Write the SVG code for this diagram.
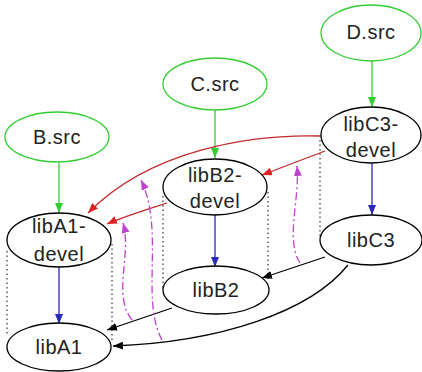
<svg xmlns="http://www.w3.org/2000/svg" width="422" height="372" viewBox="0 0 422 372">
<style>
.n{fill:#fff;stroke:#000;stroke-width:1.3}
.s{fill:#fff;stroke:#33cc33;stroke-width:1.3}
text{font-family:"Liberation Sans",Arial,sans-serif;font-size:20px;letter-spacing:0.5px;fill:#222;text-anchor:middle}
.e{fill:none;stroke-width:1.3}
.g{stroke:#33cc33}
.b{stroke:#2a2ab8}
.r{stroke:#c02a2a}
.k{stroke:#000}
.m{stroke:#c040d0;stroke-dasharray:8 3 2 3}
.d{fill:none;stroke:#333;stroke-width:1.2;stroke-dasharray:1.5 3}
</style>
<defs>
<marker id="ag" markerUnits="userSpaceOnUse" markerWidth="10" markerHeight="8" refX="10" refY="4" orient="auto"><path d="M0,0 L10,4 L0,8 z" fill="#33cc33"/></marker>
<marker id="ab" markerUnits="userSpaceOnUse" markerWidth="10" markerHeight="8" refX="10" refY="4" orient="auto"><path d="M0,0 L10,4 L0,8 z" fill="#2a2ab8"/></marker>
<marker id="ar" markerUnits="userSpaceOnUse" markerWidth="10" markerHeight="8" refX="10" refY="4" orient="auto"><path d="M0,0 L10,4 L0,8 z" fill="#dd2222"/></marker>
<marker id="ak" markerUnits="userSpaceOnUse" markerWidth="10" markerHeight="8" refX="10" refY="4" orient="auto"><path d="M0,0 L10,4 L0,8 z" fill="#000"/></marker>
<marker id="am" markerUnits="userSpaceOnUse" markerWidth="10" markerHeight="8" refX="10" refY="4" orient="auto"><path d="M0,0 L10,4 L0,8 z" fill="#c040d0"/></marker>
</defs>
<g id="dotted">
<line class="d" x1="7" y1="251" x2="7" y2="334"/>
<line class="d" x1="112" y1="244" x2="112" y2="340"/>
<line class="d" x1="163" y1="196" x2="163" y2="288"/>
<line class="d" x1="268" y1="192" x2="268" y2="280"/>
<line class="d" x1="320" y1="140" x2="320" y2="238"/>
</g>
<g id="connectors">
<line class="e g" x1="59" y1="163" x2="59" y2="213" marker-end="url(#ag)"/>
<line class="e g" x1="215" y1="110" x2="215" y2="158" marker-end="url(#ag)"/>
<line class="e g" x1="372" y1="61" x2="372" y2="107" marker-end="url(#ag)"/>
<line class="e b" x1="372" y1="163" x2="372" y2="215" marker-end="url(#ab)"/>
<line class="e b" x1="215" y1="215" x2="215" y2="267" marker-end="url(#ab)"/>
<line class="e b" x1="59" y1="267" x2="59" y2="324" marker-end="url(#ab)"/>
<path class="e r" d="M325,151 L262,175" marker-end="url(#ar)"/>
<path class="e r" d="M321,136 C250,134 150,150 88,213" marker-end="url(#ar)"/>
<path class="e r" d="M167,203 C145,210 125,216 107,224" marker-end="url(#ar)"/>
<path class="e k" d="M325,257 L262,278" marker-end="url(#ak)"/>
<path class="e k" d="M348,265 C310,312 220,342 113,346" marker-end="url(#ak)"/>
<path class="e k" d="M172,308 L107,330" marker-end="url(#ak)"/>
<path class="e m" d="M132,320 C112,295 132,255 123,223" marker-end="url(#am)"/>
<path class="e m" d="M162,340 C140,300 165,230 141,180" marker-end="url(#am)"/>
<path class="e m" d="M300,263 C285,240 300,200 297,166" marker-end="url(#am)"/>
</g>
<g id="B.src"><ellipse class="s" cx="57" cy="137" rx="52" ry="25"/><text x="57" y="144">B.src</text></g>
<g id="C.src"><ellipse class="s" cx="215" cy="84" rx="52" ry="26"/><text x="215" y="91">C.src</text></g>
<g id="D.src"><ellipse class="s" cx="371" cy="33" rx="50" ry="28"/><text x="371" y="39">D.src</text></g>
<g id="libC3-devel"><ellipse class="n" cx="371" cy="135" rx="50" ry="28"/><text x="371" y="131">libC3-</text><text x="371" y="157">devel</text></g>
<g id="libB2-devel"><ellipse class="n" cx="215" cy="187" rx="52" ry="28"/><text x="215" y="182">libB2-</text><text x="215" y="208">devel</text></g>
<g id="libA1-devel"><ellipse class="n" cx="59" cy="240" rx="52" ry="27"/><text x="59" y="233">libA1-</text><text x="59" y="261">devel</text></g>
<g id="libC3"><ellipse class="n" cx="371" cy="240" rx="51" ry="25"/><text x="371" y="247">libC3</text></g>
<g id="libB2"><ellipse class="n" cx="216" cy="290" rx="53" ry="24"/><text x="216" y="297">libB2</text></g>
<g id="libA1"><ellipse class="n" cx="59" cy="347" rx="52" ry="24"/><text x="59" y="354">libA1</text></g>
</svg>
